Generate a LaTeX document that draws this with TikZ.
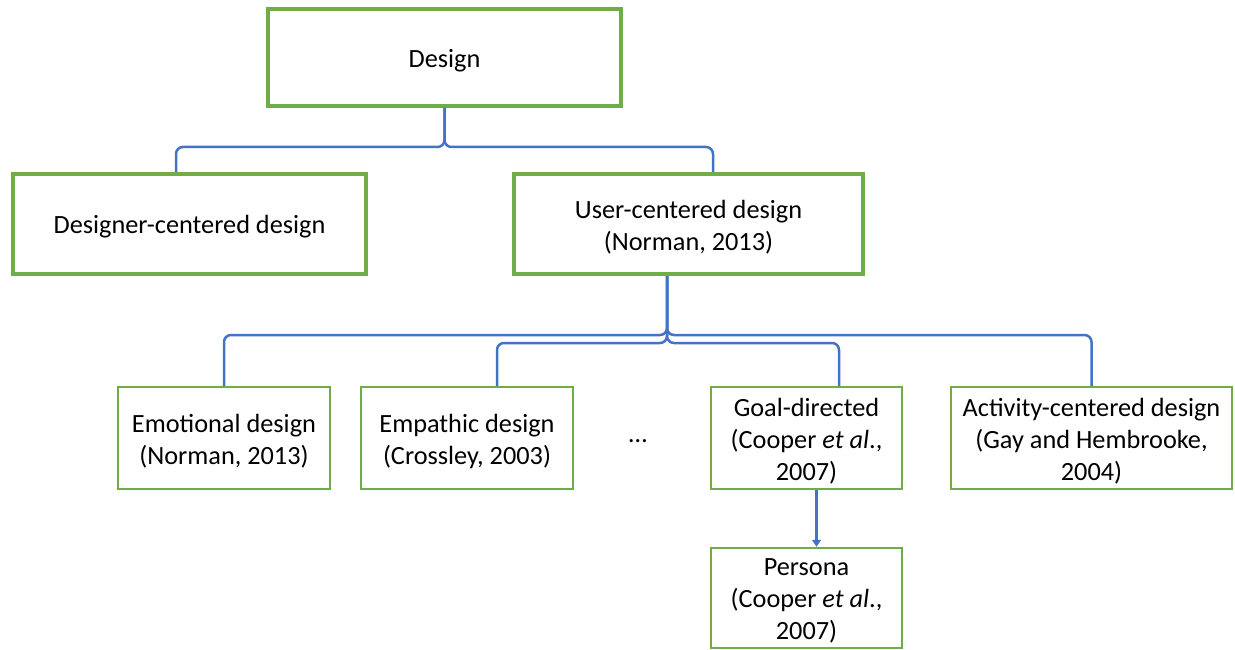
\documentclass[tikz,border=0pt]{standalone}
\usepackage{fontspec}
\setmainfont{Carlito}
\usetikzlibrary{calc,arrows.meta}
\definecolor{boxgreen}{HTML}{70AD47}
\definecolor{linkblue}{HTML}{4472C4}
\tikzset{
  txt/.style={align=center, inner sep=0pt, yshift=-3pt, font=\fontsize{26.3}{32}\selectfont},
  bigbox/.style={draw=boxgreen, line width=4pt, rectangle, inner sep=0pt},
  smallbox/.style={draw=boxgreen, line width=2.5pt, rectangle, inner sep=0pt, minimum height=102pt},
  conn/.style={draw=linkblue, line width=2.5pt, rounded corners=7pt},
  arr/.style={draw=linkblue, line width=2.5pt, -{Triangle[width=9pt,length=7pt]}},
}
\begin{document}
\begin{tikzpicture}[x=1pt,y=-1pt]
\useasboundingbox (0,0) rectangle (1235,650);
\node[bigbox, minimum width=353pt, minimum height=97pt,
  label={[txt]center:Design}] (design) at (444.5,57.5) {};
\node[bigbox, minimum width=353pt, minimum height=100pt,
  label={[txt]center:Designer-centered design}] (dcd) at (189.5,224) {};
\node[bigbox, minimum width=349pt, minimum height=100pt,
  label={[txt]center:{User-centered design\\(Norman, 2013)}}] (ucd) at (688.5,224) {};
\node[smallbox, minimum width=212pt,
  label={[txt]center:{Emotional design\\(Norman, 2013)}}] (emo) at (224,438) {};
\node[smallbox, minimum width=212pt,
  label={[txt]center:{Empathic design\\(Crossley, 2003)}}] (emp) at (467,438) {};
\node[txt] (dots) at (638,438) {\ldots};
\node[smallbox, minimum width=191pt,
  label={[txt]center:{Goal-directed\\(Cooper \textit{et al}.,\\2007)}}] (goal) at (806.5,438) {};
\node[smallbox, minimum width=281pt,
  label={[txt]center:{Activity-centered design\\(Gay and Hembrooke,\\2004)}}] (act) at (1091.5,438) {};
\node[smallbox, minimum width=191pt, minimum height=100pt,
  label={[txt]center:{Persona\\(Cooper \textit{et al}.,\\2007)}}] (persona) at (806.5,598) {};
% top brace
\coordinate (t1) at ($(dcd.north)+(-13.5,0)$);
\coordinate (t2) at ($(ucd.north)+(24.5,0)$);
\draw[conn] (design.south) -- ++(0,39) -| (t1);
\draw[conn] (design.south) -- ++(0,39) -| (t2);
% second brace
\coordinate (s) at ($(ucd.south)+(-21.5,0)$);
\coordinate (e2) at ($(emp.north)+(30,0)$);
\coordinate (g2) at ($(goal.north)+(32.5,0)$);
\draw[conn] (s) -- ++(0,59) -| (emo.north);
\draw[conn] (s) -- ++(0,59) -| (act.north);
\draw[conn] (s) -- ++(0,67) -| (e2);
\draw[conn] (s) -- ++(0,67) -| (g2);
% arrow
\draw[arr] ($(goal.south)+(10,0)$) -- ($(persona.north)+(10,0)$);
\end{tikzpicture}
\end{document}
